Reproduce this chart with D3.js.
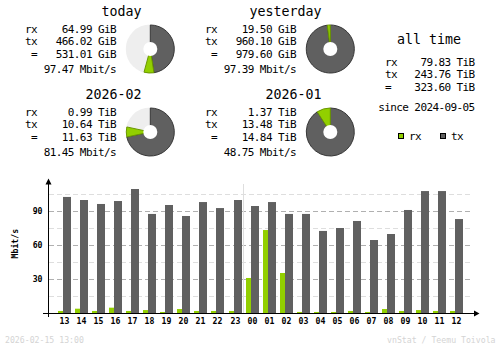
<!DOCTYPE html>
<html>
<head>
<meta charset="utf-8">
<script src="https://cdn.jsdelivr.net/npm/d3@7"></script>
<style>
  html, body { margin: 0; padding: 0; background: #ffffff; }
  svg { display: block; }
  text { font-family: "DejaVu Sans Mono", "Liberation Mono", monospace; }
</style>
</head>
<body>
<script>
// ---- hourly traffic (Mbit/s), last 24 hours ----
const hours = ["13","14","15","16","17","18","19","20","21","22","23",
               "00","01","02","03","04","05","06","07","08","09","10","11","12"];
const rxRate = [1.8, 3.8, 1.8, 4.7, 1.8, 2.6, 0.9, 3.5, 1.8, 1.8, 1.8,
                30.9, 73.2, 35.3, 0.9, 0.9, 0.9, 1.8, 0.9, 3.5, 1.8, 2.6, 1.8, 1.8];
const txRate = [102.4, 99.7, 96.2, 98.8, 109.4, 87.4, 95.3, 85.6, 97.9, 92.6, 99.7,
                94.4, 97.9, 87.4, 87.4, 72.4, 75.0, 81.2, 64.4, 69.7, 90.9, 107.6, 107.6, 82.9];
const majorTicks = [30, 60, 90];
const minorTicks = [15, 45, 75, 105];
const dayBreak = "00";

// ---- summary periods ----
const periods     = ["today", "yesterday", "2026-02", "2026-01"];
const periodRx    = [64.99, 19.50, 0.99, 1.37];
const periodTx    = [466.02, 960.10, 10.64, 13.48];
const periodTotal = [531.01, 979.60, 11.63, 14.84];
const periodUnit  = ["GiB", "GiB", "TiB", "TiB"];
const periodRate  = [97.47, 97.39, 81.45, 48.75];

// ---- all time ----
const allTimeLabels = ["rx", "tx", " ="];
const allTimeValues = [79.83, 243.76, 323.60];
const allTimeUnit = "TiB";
const sinceDate = "2024-09-05";
const stamp = "2026-02-15 13:00";
const credit = "vnStat / Teemu Toivola";

const C = {
  rx: "#92cf00", rxEdge: "#6b9800",
  tx: "#606060", txEdge: "#383838",
  pieBg: "#eeeeee",
  major: "#b0b0b0", minor: "#dedede",
  faint: "#d4d4d4", text: "#000000"
};

const W = 500, H = 348;
const svg = d3.select("body").append("svg").attr("width", W).attr("height", H);

// ---------- summary blocks ----------
const blockDx = [0, 180, 0, 180];
const blockDy = [0, 0, 83, 83];
const bodyFont = { size: "11px", ls: "-0.6px" };

function bodyText(g, x, y, str, anchor) {
  return g.append("text").attr("x", x).attr("y", y)
    .attr("text-anchor", anchor || "start")
    .attr("font-size", bodyFont.size).attr("letter-spacing", bodyFont.ls)
    .attr("fill", C.text).text(str);
}

const arc = d3.arc();

periods.forEach((name, i) => {
  const g = svg.append("g").attr("transform", `translate(${blockDx[i]},${blockDy[i]})`);
  g.append("text").attr("x", 141.5).attr("y", 16.3).attr("text-anchor", "end")
    .attr("font-size", "13.3px").attr("fill", C.text).text(name);

  const rowsY = [33, 45.3, 58.3, 73];
  bodyText(g, 25, rowsY[0], "rx");
  bodyText(g, 25, rowsY[1], "tx");
  bodyText(g, 31, rowsY[2], "=");
  bodyText(g, 116, rowsY[0], `${periodRx[i].toFixed(2)} ${periodUnit[i]}`, "end");
  bodyText(g, 116, rowsY[1], `${periodTx[i].toFixed(2)} ${periodUnit[i]}`, "end");
  bodyText(g, 116, rowsY[2], `${periodTotal[i].toFixed(2)} ${periodUnit[i]}`, "end");
  bodyText(g, 116, rowsY[3], `${periodRate[i].toFixed(2)} Mbit/s`, "end");

  // donut: share of the larger total in the pair (today/yesterday, month/previous month)
  const pair = Math.floor(i / 2) * 2;
  const denom = Math.max(periodTotal[pair], periodTotal[pair + 1]);
  const turn = d3.scaleLinear().domain([0, denom]).range([0, 2 * Math.PI]).clamp(true);
  const txEnd = turn(periodTx[i]);
  const rxEnd = Math.min(2 * Math.PI, txEnd + turn(periodRx[i]));
  const pie = g.append("g").attr("transform", "translate(150.3,49)");
  const R = 24.5;
  pie.append("circle").attr("r", R).attr("fill", C.pieBg);
  pie.append("path")
    .attr("d", arc({ innerRadius: 0, outerRadius: R - 0.5, startAngle: 0, endAngle: txEnd }))
    .attr("fill", C.tx).attr("stroke", C.txEdge).attr("stroke-width", 1);
  pie.append("path")
    .attr("d", arc({ innerRadius: 0, outerRadius: R - 0.5, startAngle: txEnd, endAngle: rxEnd }))
    .attr("fill", C.rx).attr("stroke", C.rxEdge).attr("stroke-width", 1);
  pie.append("circle").attr("r", 7).attr("fill", "#ffffff");
});

// ---------- all time ----------
const at = svg.append("g");
at.append("text").attr("x", 429).attr("y", 44.3).attr("text-anchor", "middle")
  .attr("font-size", "13.3px").attr("fill", C.text).text("all time");
const atRows = [66, 77.8, 91];
allTimeLabels.forEach((lab, k) => {
  bodyText(at, 385, atRows[k], lab);
  bodyText(at, 474.6, atRows[k], `${allTimeValues[k].toFixed(2)} ${allTimeUnit}`, "end");
});
bodyText(at, 474.6, 110.5, `since ${sinceDate}`, "end");

// legend
const legend = [{ key: "rx", fill: C.rx, x: 398.5 }, { key: "tx", fill: C.tx, x: 440.5 }];
legend.forEach(d => {
  at.append("rect").attr("x", d.x).attr("y", 133.5).attr("width", 5).attr("height", 5)
    .attr("fill", d.fill).attr("stroke", "#000000").attr("stroke-width", 1);
  bodyText(at, d.x + 10.5, 139.7, d.key);
});

// ---------- hourly bar chart ----------
const x = d3.scaleBand().domain(hours).range([56, 56 + 17.05 * hours.length]).padding(0);
const y = d3.scaleLinear().domain([0, 120]).range([313, 177]);
const chart = svg.append("g");

// grid lines
minorTicks.forEach(v => {
  chart.append("line").attr("x1", 49).attr("x2", 473)
    .attr("y1", Math.round(y(v)) + 0.5).attr("y2", Math.round(y(v)) + 0.5)
    .attr("stroke", C.minor).attr("stroke-dasharray", "5,3");
});
majorTicks.forEach(v => {
  chart.append("line").attr("x1", 49).attr("x2", 473)
    .attr("y1", Math.round(y(v)) + 0.5).attr("y2", Math.round(y(v)) + 0.5)
    .attr("stroke", C.major).attr("stroke-dasharray", "5,3");
});

// day change marker
const breakX = Math.floor(x(dayBreak)) + 0.5;
chart.append("line").attr("x1", breakX).attr("x2", breakX)
  .attr("y1", 184).attr("y2", 313).attr("stroke", C.minor);

// bars
const barX = h => Math.round(x(h) + 2);
chart.selectAll("rect.rx").data(hours).join("rect").attr("class", "rx")
  .attr("x", h => barX(h)).attr("width", 5)
  .attr("y", (h, i) => y(rxRate[i])).attr("height", (h, i) => y(0) - y(rxRate[i]))
  .attr("fill", C.rx);
chart.selectAll("rect.tx").data(hours).join("rect").attr("class", "tx")
  .attr("x", h => barX(h) + 5).attr("width", 8)
  .attr("y", (h, i) => y(txRate[i])).attr("height", (h, i) => y(0) - y(txRate[i]))
  .attr("fill", C.tx);

// axes
chart.append("line").attr("x1", 48.5).attr("x2", 48.5).attr("y1", 317).attr("y2", 182)
  .attr("stroke", "#000");
chart.append("path").attr("d", "M45.5,184.5 L51.5,184.5 L48.5,178.5 Z").attr("fill", "#000");
chart.append("line").attr("x1", 43).attr("x2", 476).attr("y1", 313.5).attr("y2", 313.5)
  .attr("stroke", "#000");
chart.append("path").attr("d", "M474,310.5 L474,316.5 L479.5,313.5 Z").attr("fill", "#000");

// hour labels
chart.selectAll("text.hour").data(hours).join("text").attr("class", "hour")
  .attr("x", h => barX(h) + 6.5).attr("y", 324)
  .attr("text-anchor", "middle").attr("font-size", "8.2px").attr("font-weight", "bold")
  .attr("fill", C.text).text(h => h);

// value labels
majorTicks.forEach(v => {
  chart.append("text").attr("x", 42.5).attr("y", y(v) + 3.2)
    .attr("text-anchor", "end").attr("font-size", "8.2px").attr("font-weight", "bold")
    .attr("fill", C.text).text(v);
});

chart.append("text")
  .attr("transform", "translate(17.5,243.7) rotate(-90)")
  .attr("text-anchor", "middle").attr("font-size", "8.2px").attr("font-weight", "bold")
  .attr("fill", C.text).text("Mbit/s");

// footer
svg.append("text").attr("x", 5).attr("y", 342.7).attr("font-size", "8.2px")
  .attr("fill", C.faint).text(stamp);
svg.append("text").attr("x", 495.5).attr("y", 342.7).attr("text-anchor", "end")
  .attr("font-size", "8.2px").attr("fill", C.faint).text(credit);
</script>
</body>
</html>
